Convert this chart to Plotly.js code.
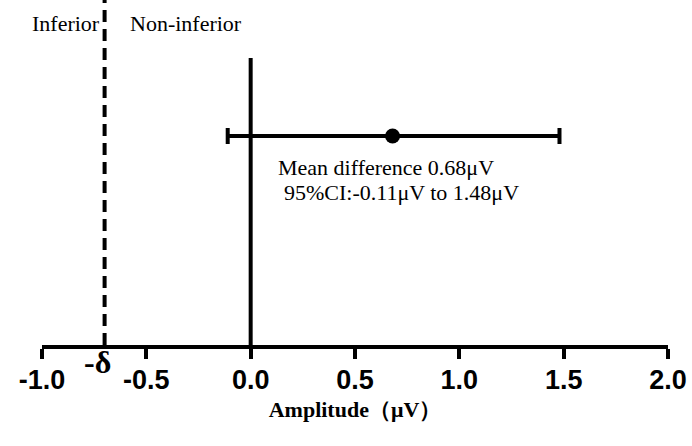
<!DOCTYPE html>
<html>
<head>
<meta charset="utf-8">
<script src="https://cdn.plot.ly/plotly-3.0.1.min.js"></script>
<style>html,body{margin:0;padding:0;background:#fff;}#chart{width:692px;height:446px;}</style>
</head>
<body>
<div id="chart"></div>
<script>
// Data
const meanDiff = 0.68;
const ciLower = -0.11;
const ciUpper = 1.48;
const delta = -0.7;
const tickVals = [-1.0, -0.5, 0.0, 0.5, 1.0, 1.5, 2.0];
const tickLabels = ['-1.0', '-0.5', '0.0', '0.5', '1.0', '1.5', '2.0'];
const labelLine1 = 'Mean difference 0.68μV';
const labelLine2 = '95%CI:-0.11μV to 1.48μV';
const pointY = 0.606;
const refLineTop = 0.832;

const serif = 'Liberation Serif, Times New Roman, serif';

const traces = [
  { // dashed non-inferiority margin line
    x: [delta, delta], y: [0, 1], mode: 'lines', type: 'scatter',
    line: {color: '#000', width: 4, dash: '12px,7px'}, hoverinfo: 'skip', showlegend: false
  },
  { // zero reference line
    x: [0, 0], y: [0, refLineTop], mode: 'lines', type: 'scatter',
    line: {color: '#000', width: 4}, hoverinfo: 'skip', showlegend: false
  },
  { // mean difference with CI
    x: [meanDiff], y: [pointY], mode: 'markers', type: 'scatter',
    marker: {color: '#000', size: 15},
    error_x: {type: 'data', symmetric: false, array: [ciUpper - meanDiff], arrayminus: [meanDiff - ciLower],
      color: '#000', thickness: 4, width: 8},
    showlegend: false
  }
];

const layout = {
  width: 692, height: 446,
  margin: {l: 42, r: 24, t: 0, b: 101},
  paper_bgcolor: '#fff', plot_bgcolor: '#fff',
  showlegend: false,
  xaxis: {
    range: [-1.0, 2.0], tickvals: tickVals, ticktext: tickLabels,
    ticks: 'outside', ticklen: 10, tickwidth: 4, tickcolor: '#000',
    showline: true, linewidth: 4, linecolor: '#000', showgrid: false, zeroline: false,
    ticklabelstandoff: -2,
    tickfont: {family: 'Liberation Sans, Arial, sans-serif', size: 27, color: '#000', weight: 'bold'},
    title: {text: 'Amplitude（μV）', font: {family: serif, size: 22, color: '#000', weight: 'bold'}, standoff: 8}
  },
  yaxis: {range: [0, 1], visible: false, fixedrange: true},
  annotations: [
    {x: delta, y: 0, xref: 'x', yref: 'y', text: '-δ', showarrow: false, xanchor: 'center', yanchor: 'middle', xshift: -7, yshift: -17,
     font: {family: serif, size: 32, color: '#000', weight: 'bold'}},
    {x: delta, y: 1, xref: 'x', yref: 'y', text: 'Inferior', showarrow: false, xanchor: 'right', yanchor: 'middle', xshift: -3, yshift: -23,
     font: {family: serif, size: 22, color: '#000'}},
    {x: delta, y: 1, xref: 'x', yref: 'y', text: 'Non-inferior', showarrow: false, xanchor: 'left', yanchor: 'middle', xshift: 23, yshift: -23,
     font: {family: serif, size: 22, color: '#000'}},
    {x: 0, y: pointY, xref: 'x', yref: 'y', text: labelLine1, showarrow: false,
     xanchor: 'left', yanchor: 'middle', xshift: 25, yshift: -32,
     font: {family: serif, size: 22, color: '#000'}},
    {x: 0, y: pointY, xref: 'x', yref: 'y', text: labelLine2, showarrow: false,
     xanchor: 'left', yanchor: 'middle', xshift: 31, yshift: -57,
     font: {family: serif, size: 22, color: '#000'}}
  ]
};

Plotly.newPlot('chart', traces, layout, {displayModeBar: false, staticPlot: true});
</script>
</body>
</html>
